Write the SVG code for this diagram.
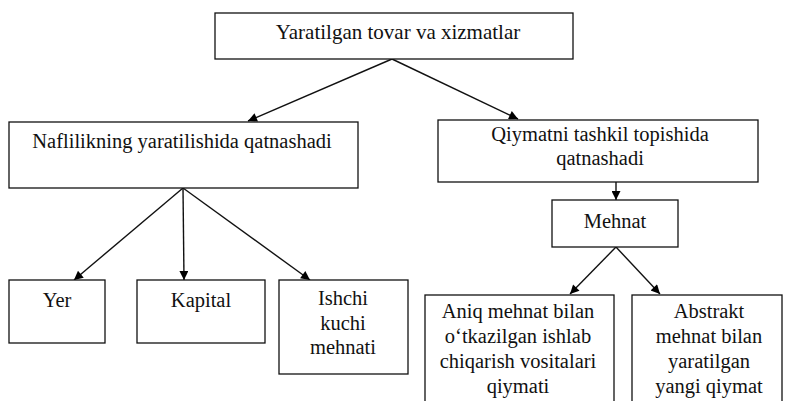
<svg xmlns="http://www.w3.org/2000/svg" width="785" height="401" viewBox="0 0 785 401">
<defs>
<marker id="ah" viewBox="0 0 10 10" refX="10" refY="5" markerWidth="11" markerHeight="9" markerUnits="userSpaceOnUse" orient="auto">
<path d="M0,0 L10,5 L0,10 z" fill="#000"/>
</marker>
<style>
.box{fill:#fff;stroke:#111;stroke-width:1.3}
.c{stroke:#111;stroke-width:1.4;fill:none;marker-end:url(#ah)}
</style>
</defs>
<rect width="785" height="401" fill="#fff"/>
<g id="connectors">
<line class="c" x1="392" y1="59" x2="248" y2="121"/>
<line class="c" x1="392" y1="59" x2="518" y2="119"/>
<line class="c" x1="183" y1="188" x2="74" y2="280"/>
<line class="c" x1="183" y1="188" x2="184" y2="280"/>
<line class="c" x1="183" y1="188" x2="310" y2="280"/>
<line class="c" x1="616" y1="182" x2="616" y2="200"/>
<line class="c" x1="616" y1="247" x2="570" y2="294"/>
<line class="c" x1="616" y1="247" x2="660" y2="294"/>
</g>
<g id="n-top"><rect class="box" x="215" y="13" width="358" height="46"/><text font-family="'Liberation Serif'" font-size="21" text-anchor="middle" fill="#111" x="398" y="39">Yaratilgan tovar va xizmatlar</text></g>
<g id="n-naf"><rect class="box" x="9" y="122" width="349" height="66"/><text font-family="'Liberation Serif'" font-size="20.5" text-anchor="middle" fill="#111" x="182" y="148">Naflilikning yaratilishida qatnashadi</text></g>
<g id="n-qiy"><rect class="box" x="438" y="120" width="320" height="62"/><text font-family="'Liberation Serif'" font-size="20.5" text-anchor="middle" fill="#111" x="600" y="141">Qiymatni tashkil topishida</text><text font-family="'Liberation Serif'" font-size="20.5" text-anchor="middle" fill="#111" x="600" y="165">qatnashadi</text></g>
<g id="n-meh"><rect class="box" x="552" y="200" width="126" height="47"/><text font-family="'Liberation Serif'" font-size="20.5" text-anchor="middle" fill="#111" x="615" y="228">Mehnat</text></g>
<g id="n-yer"><rect class="box" x="9" y="280" width="96" height="63"/><text font-family="'Liberation Serif'" font-size="20.5" text-anchor="middle" fill="#111" x="57" y="307">Yer</text></g>
<g id="n-kap"><rect class="box" x="137" y="280" width="128" height="63"/><text font-family="'Liberation Serif'" font-size="20.5" text-anchor="middle" fill="#111" x="201" y="307">Kapital</text></g>
<g id="n-ish"><rect class="box" x="279" y="280" width="129" height="94"/><text font-family="'Liberation Serif'" font-size="20.5" text-anchor="middle" fill="#111" x="343" y="305">Ishchi</text><text font-family="'Liberation Serif'" font-size="20.5" text-anchor="middle" fill="#111" x="343" y="330">kuchi</text><text font-family="'Liberation Serif'" font-size="20.5" text-anchor="middle" fill="#111" x="343" y="354">mehnati</text></g>
<g id="n-aniq"><rect class="box" x="425" y="295" width="189" height="115"/><text font-family="'Liberation Serif'" font-size="20.5" text-anchor="middle" fill="#111" x="518" y="318">Aniq mehnat bilan</text><text font-family="'Liberation Serif'" font-size="20.5" text-anchor="middle" fill="#111" x="518" y="343">o‘tkazilgan ishlab</text><text font-family="'Liberation Serif'" font-size="20.5" text-anchor="middle" fill="#111" x="518" y="368">chiqarish vositalari</text><text font-family="'Liberation Serif'" font-size="20.5" text-anchor="middle" fill="#111" x="518" y="393">qiymati</text></g>
<g id="n-abs"><rect class="box" x="632" y="295" width="150" height="115"/><text font-family="'Liberation Serif'" font-size="20.5" text-anchor="middle" fill="#111" x="709" y="318">Abstrakt</text><text font-family="'Liberation Serif'" font-size="20.5" text-anchor="middle" fill="#111" x="709" y="343">mehnat bilan</text><text font-family="'Liberation Serif'" font-size="20.5" text-anchor="middle" fill="#111" x="709" y="368">yaratilgan</text><text font-family="'Liberation Serif'" font-size="20.5" text-anchor="middle" fill="#111" x="709" y="393">yangi qiymat</text></g>
</svg>
